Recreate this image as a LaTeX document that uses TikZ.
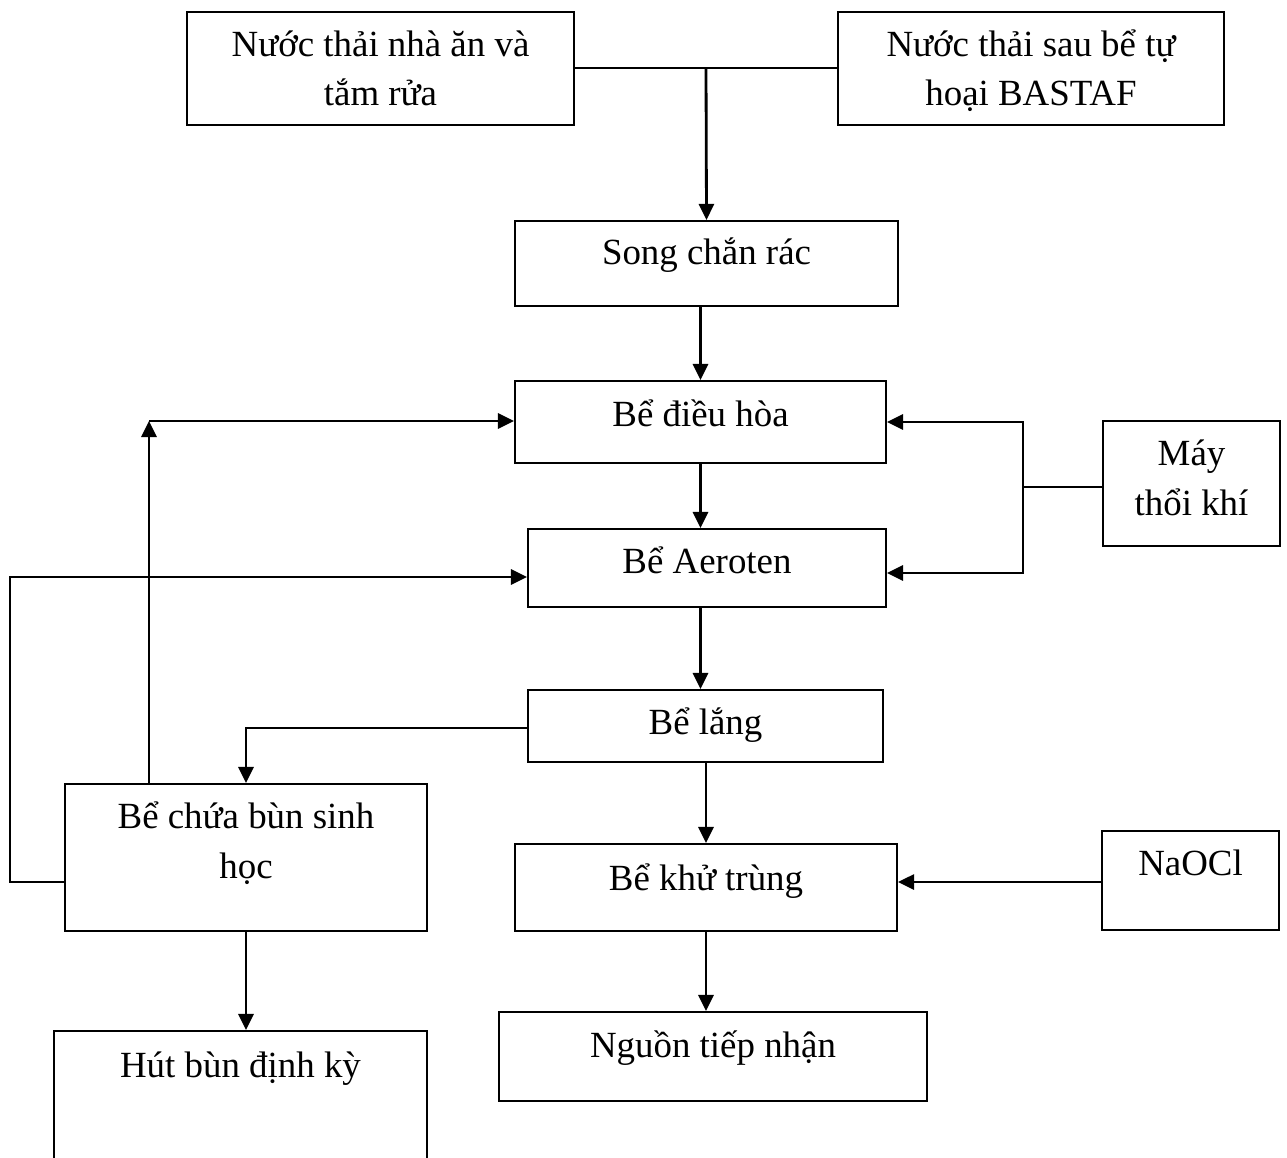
\documentclass[tikz,border=0pt]{standalone}
\usepackage{fontspec}
\setmainfont{Liberation Serif}
\usetikzlibrary{arrows.meta}
\tikzset{
  box/.style={draw,line width=1.2pt,inner sep=0pt,align=center,text height=.56cm,
    font=\fontsize{21}{27.9}\selectfont},
  twoline/.style={box,text height=1.54cm},
  flow/.style={line width=1.6pt,-{Triangle[length=.32cm,width=.3cm]}},
  link/.style={line width=1.3pt}
}

\begin{document}
\begin{tikzpicture}[x=.02cm,y=-.02cm]
  \useasboundingbox (0,0) rectangle (1287,1157);
  \node[twoline,minimum width=7.74cm,minimum height=2.26cm,text depth=.04cm] (src1) at (380.5,68.5) {Nước thải nhà ăn và\\tắm rửa};
  \node[twoline,minimum width=7.72cm,minimum height=2.26cm,text depth=.04cm] (src2) at (1031,68.5) {Nước thải sau bể tự\\hoại BASTAF};
  \node[box,minimum width=7.66cm,minimum height=1.70cm,text depth=.54cm] (screen) at (706.5,263.5) {Song chắn rác};
  \node[box,minimum width=7.42cm,minimum height=1.64cm,text depth=.40cm] (equal) at (700.5,422) {Bể điều hòa};
  \node[box,minimum width=7.16cm,minimum height=1.56cm,text depth=.36cm] (aero) at (707,568) {Bể Aeroten};
  \node[box,minimum width=7.10cm,minimum height=1.44cm,text depth=.24cm] (settle) at (705.5,726) {Bể lắng};
  \node[box,minimum width=7.64cm,minimum height=1.74cm,text depth=.46cm] (disinf) at (706,887.5) {Bể khử trùng};
  \node[box,minimum width=8.56cm,minimum height=1.78cm,text depth=.54cm] (recv) at (713,1056.5) {Nguồn tiếp nhận};
  \node[twoline,minimum width=3.54cm,minimum height=2.50cm,text depth=.28cm] (blower) at (1191.5,483.5) {Máy\\thổi khí};
  \node[box,minimum width=3.54cm,minimum height=1.98cm,text depth=.78cm] (naocl) at (1190.5,880.5) {NaOCl};
  \node[twoline,minimum width=7.24cm,minimum height=2.94cm,text depth=.72cm] (sludge) at (246,857.5) {Bể chứa bùn sinh\\học};
  \node[box,minimum width=7.46cm,minimum height=2.98cm,text depth=1.70cm] (pump) at (240.5,1105.5) {Hút bùn định kỳ};

  \coordinate (jsrc) at (706,68);
  \coordinate (jair) at (1023,487);
  \coordinate (ret1) at (149,421);
  \coordinate (ret2) at (10,577);

  \draw[link] (src1.east |- jsrc) -- (src2.west |- jsrc);
  \draw[flow] (jsrc) -- (screen.north);
  \draw[flow] (equal.north |- screen.south) -- (equal.north);
  \draw[flow] (equal.south) -- (equal.south |- aero.north);
  \draw[flow] (equal.south |- aero.south) -- (equal.south |- settle.north);
  \draw[flow] (disinf.north |- settle.south) -- (disinf.north);
  \draw[flow] (disinf.south) -- (disinf.south |- recv.north);
  \draw[link] (blower.west |- jair) -- (jair);
  \draw[flow] (jair) |- (equal.east);
  \draw[flow] (jair) |- ([yshift=-.1cm]aero.east);
  \draw[flow] (naocl.west |- 0,882) -- (disinf.east |- 0,882);
  \draw[flow] (settle.west |- 0,728) -| (sludge.north);
  \draw[flow] (sludge.north -| ret1) -- (ret1);
  \draw[flow] (ret1) -- (equal.west |- ret1);
  \draw[flow] (sludge.west |- 0,882) -| (ret2) -- (aero.west |- ret2);
  \draw[flow] (sludge.south) -- (sludge.south |- pump.north);
\end{tikzpicture}
\end{document}
